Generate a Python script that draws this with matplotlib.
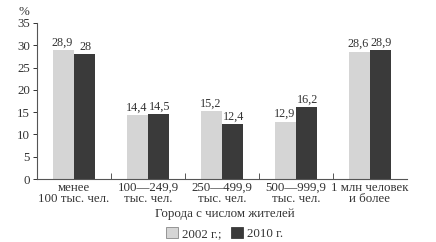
import numpy as np
import matplotlib
matplotlib.use("Agg")
import matplotlib.pyplot as plt
from matplotlib.patches import Patch

plt.rcParams["font.family"] = ["Liberation Serif", "DejaVu Serif"]

categories = [
    "менее\n100 тыс. чел.",
    "100—249,9\nтыс. чел.",
    "250—499,9\nтыс. чел.",
    "500—999,9\nтыс. чел.",
    "1 млн человек\nи более",
]
values_2002 = [28.9, 14.4, 15.2, 12.9, 28.6]
values_2010 = [28.0, 14.5, 12.4, 16.2, 28.9]
labels_2002 = ["28,9", "14,4", "15,2", "12,9", "28,6"]
labels_2010 = ["28", "14,5", "12,4", "16,2", "28,9"]
series_names = ["2002 г.;", "2010 г."]

light = "#d5d5d5"
dark = "#3a3a3a"
text_col = "#333333"
fs = 9.3
fs_val = 8.7

fig = plt.figure(figsize=(4.36, 2.42), dpi=100)
ax = fig.add_axes([0.085, 0.26, 0.848, 0.645])

x = np.arange(len(categories)) + 0.5
w = 0.285
b1 = ax.bar(x - w / 2, values_2002, w, color=light)
b2 = ax.bar(x + w / 2, values_2010, w, color=dark)

for bar, lab in zip(b1, labels_2002):
    ax.text(bar.get_x() + bar.get_width() / 2 - 0.015, bar.get_height() + 0.3,
            lab, ha="center", va="bottom", fontsize=fs_val, color=text_col)
for bar, lab in zip(b2, labels_2010):
    ax.text(bar.get_x() + bar.get_width() / 2 + 0.015, bar.get_height() + 0.3,
            lab, ha="center", va="bottom", fontsize=fs_val, color=text_col)

ax.set_xlim(0, len(categories))
ax.set_ylim(0, 35)
ax.set_yticks(range(0, 36, 5))
ax.tick_params(axis="y", labelsize=fs, colors=text_col, length=3, width=0.7,
               pad=2)

# group boundaries as ticks, category names as minor labels
ax.set_xticks(np.arange(1, len(categories)))
ax.set_xticklabels([])
ax.tick_params(axis="x", which="major", direction="in", length=4, width=0.7,
               colors="#555555")
ax.set_xticks(x, minor=True)
ax.set_xticklabels(categories, minor=True, fontsize=fs, color=text_col,
                   linespacing=0.95)
ax.tick_params(axis="x", which="minor", length=0, pad=2)

for s in ["top", "right"]:
    ax.spines[s].set_visible(False)
for s in ["left", "bottom"]:
    ax.spines[s].set_color("#555555")
    ax.spines[s].set_linewidth(0.8)

fig.text(0.055, 0.95, "%", fontsize=fs, color=text_col, ha="center",
         va="center")
fig.text(0.515, 0.115, "Города с числом жителей", fontsize=fs,
         color=text_col, ha="center", va="center")

handles = [Patch(facecolor=light, edgecolor="#888888", linewidth=0.6),
           Patch(facecolor=dark, edgecolor=dark, linewidth=0.6)]
fig.legend(handles, series_names, loc="center", bbox_to_anchor=(0.515, 0.035),
           ncol=2, frameon=False, fontsize=fs, handlelength=0.9,
           handleheight=0.9, handletextpad=0.3, columnspacing=0.8,
           labelcolor=text_col)

fig.savefig("out.png", dpi=100)
